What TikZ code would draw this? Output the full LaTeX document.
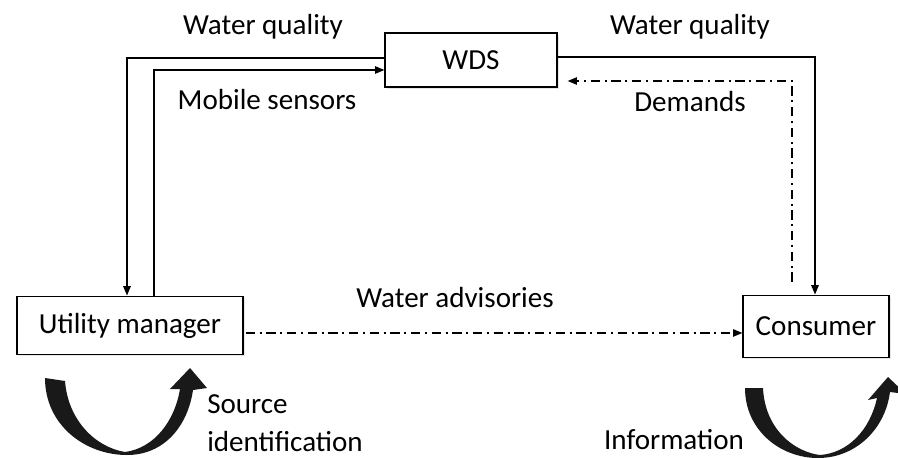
\documentclass[tikz,border=0pt]{standalone}
\usepackage{fontspec}
\setmainfont{Carlito}
\usetikzlibrary{arrows.meta,shadows}
\tikzset{
  box/.style={draw,line width=0.9pt,fill=white,drop shadow={shadow xshift=1.2pt,shadow yshift=-1.2pt,opacity=0.2}},
  flow/.style={line width=1.1pt,-{Triangle[length=7pt,width=5.5pt]}},
  info/.style={flow,dash pattern=on 7pt off 3.5pt on 1.5pt off 3.5pt},
  loop/.style={fill=black!90,draw=none}
}

\begin{document}
\begin{tikzpicture}[x=0.75pt,y=-0.75pt,font=\fontsize{21.8}{28}\selectfont,every node/.style={inner sep=0pt}]
  \useasboundingbox (0,0) rectangle (898,457);
  \node[box,minimum width=129pt,minimum height=40.5pt] (wds) at (471,60) {WDS};
  \node[box,minimum width=169.5pt,minimum height=44pt] (um) at (130,325.5) {Utility manager};
  \node[box,minimum width=109.5pt,minimum height=47pt] (con) at (816,326.5) {Consumer};
  \draw[flow] ([yshift=1.5pt]wds.west) -| ([xshift=-2.25pt]um.north);
  \draw[flow] ([xshift=18pt]um.north) |- ([yshift=-7.5pt]wds.west);
  \draw[flow] ([yshift=2.25pt]wds.east) -| ([xshift=-0.75pt]con.north);
  \draw[info,shorten <=9.75pt] ([xshift=-18pt]con.north) |- ([xshift=7.5pt,yshift=-15.75pt]wds.east);
  \draw[info,shorten <=1.5pt] ([yshift=-5.6pt]um.east) -- ([yshift=-5.6pt]um.east -| con.west);
  \node (wq1) at (263,27) {Water quality};
  \node (wq2) at (690,27) {Water quality};
  \node (ms) at (267,100) {Mobile sensors};
  \node (dm) at (690,102) {Demands};
  \node (wa) at (455,298) {Water advisories};
  \node[anchor=west,align=left] (si) at (207,423) {Source\\identification};
  \node (inf) at (674,440) {Information};
  \fill[loop] (45,378) .. controls (45,425) and (85,455) .. (127,455)
    .. controls (165,455) and (188,425) .. (193,390) -- (207,388) -- (190,368) -- (170,389) -- (180,389)
    .. controls (175,420) and (155,448) .. (125,452)
    .. controls (95,447) and (68,420) .. (65,381) -- cycle;
  \fill[loop] (745,388) .. controls (745,430) and (780,458) .. (818,458)
    .. controls (855,458) and (885,430) .. (890,392) -- (906,394) -- (888,377) -- (868,400) -- (877,398)
    .. controls (870,430) and (848,453) .. (820,455)
    .. controls (795,452) and (765,430) .. (763,388) -- cycle;
\end{tikzpicture}
\end{document}
